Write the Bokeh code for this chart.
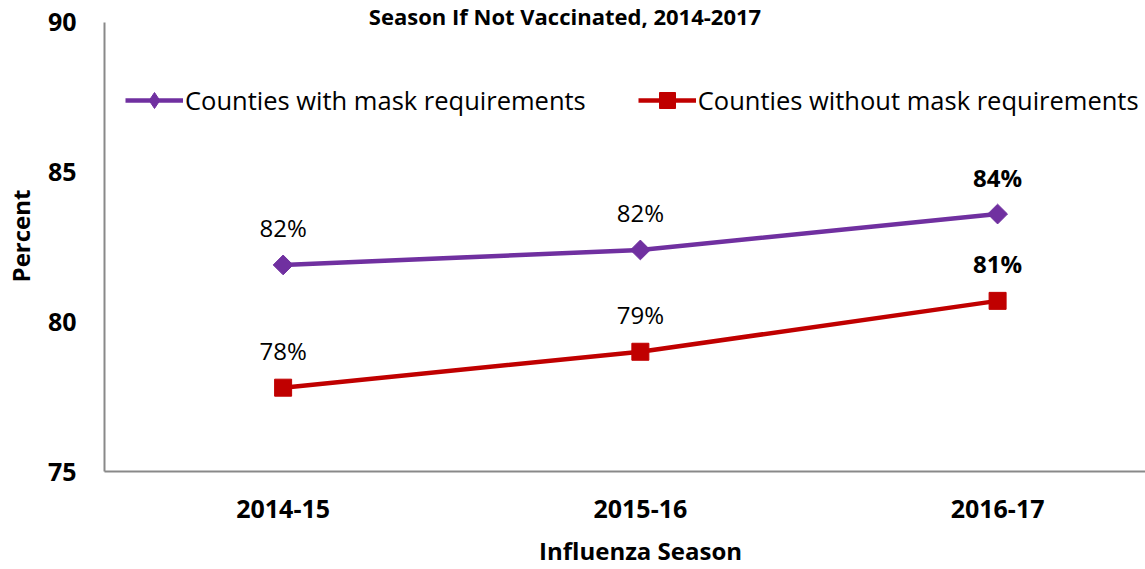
import numpy as np
from bokeh.plotting import figure
from bokeh.models import (ColumnDataSource, Range1d, FixedTicker, Legend, LegendItem, Label)
from bokeh.core.properties import value
from bokeh.embed import file_html
from bokeh.resources import INLINE

# ---- data ----
seasons = ["2014-15", "2015-16", "2016-17"]
with_mask = [81.9, 82.4, 83.6]
without_mask = [77.8, 79.0, 80.7]
series_names = ["Counties with mask requirements", "Counties without mask requirements"]
y_ticks = [75, 80, 85, 90]
title_line = "Season If Not Vaccinated,  2014-2017"
x_title = "Influenza Season"
y_title = "Percent"

FONT = "Open Sans"
PURPLE = "#7030A0"
RED = "#C00000"

xs = list(range(len(seasons)))
y_lo, y_hi = y_ticks[0], y_ticks[-1]
# frame reaches the top of the canvas so the (cropped) title line can sit above 90
y_top = y_hi + 22 / 30.0

p = figure(width=1145, height=569, output_backend="svg", toolbar_location=None,
           x_range=Range1d(-0.5, 2.414), y_range=Range1d(y_lo, y_top),
           min_border_left=104, min_border_right=0, min_border_top=0, min_border_bottom=97)
p.outline_line_color = None
p.grid.visible = False
p.background_fill_color = "white"
p.border_fill_color = "white"

def label_styles(vals):
    return ["bold" if i == len(vals) - 1 else "normal" for i in range(len(vals))]

src_a = ColumnDataSource(dict(x=xs, y=with_mask,
                              lab=[f"{round(v)}%" for v in with_mask],
                              st=label_styles(with_mask)))
src_b = ColumnDataSource(dict(x=xs, y=without_mask,
                              lab=[f"{round(v)}%" for v in without_mask],
                              st=label_styles(without_mask)))

la = p.line("x", "y", source=src_a, line_color=PURPLE, line_width=4.5)
# diamond used for the legend swatch (hidden under the rotated square in the plot)
da = p.scatter("x", "y", source=src_a, marker="diamond", size=14,
               fill_color=PURPLE, line_color=PURPLE)
ma = p.scatter("x", "y", source=src_a, marker="square", angle=np.pi / 4, size=14,
               fill_color=PURPLE, line_color=PURPLE)
lb = p.line("x", "y", source=src_b, line_color=RED, line_width=4.5)
mb = p.scatter("x", "y", source=src_b, marker="square", size=17,
               fill_color=RED, line_color=RED)

for src in (src_a, src_b):
    p.text("x", "y", text="lab", source=src, text_font=value(FONT), text_font_size="24px",
           text_font_style="st", text_align="center", text_baseline="middle",
           y_offset=-37, text_color="black")

# axes
p.xaxis.ticker = FixedTicker(ticks=xs)
p.xaxis.major_label_overrides = {i: s for i, s in enumerate(seasons)}
p.yaxis.ticker = FixedTicker(ticks=y_ticks)
p.yaxis.bounds = (y_lo, y_hi)
for ax in (p.xaxis, p.yaxis):
    ax.axis_line_color = "#898989"
    ax.axis_line_width = 2
    ax.major_tick_line_color = None
    ax.minor_tick_line_color = None
    ax.major_tick_out = 0
    ax.major_tick_in = 0
    ax.major_label_text_font = FONT
    ax.major_label_text_font_style = "bold"
    ax.major_label_text_font_size = "25px"
    ax.major_label_text_color = "black"
    ax.axis_label_text_font = FONT
    ax.axis_label_text_font_style = "bold"
    ax.axis_label_text_font_size = "24px"
    ax.axis_label_text_color = "black"
p.xaxis.major_label_standoff = 28
# non-breaking spaces nudge the title right, to sit under the middle season as in the
# right-cropped original
p.xaxis.axis_label = "\u00a0" * 5 + x_title
p.xaxis.axis_label_standoff = 13
p.yaxis.major_label_standoff = 28
p.yaxis.axis_label = y_title
p.yaxis.axis_label_standoff = 8

legend = Legend(items=[LegendItem(label=series_names[0], renderers=[la, da]),
                       LegendItem(label=series_names[1], renderers=[lb, mb])],
                orientation="horizontal", location=(21, 351),
                glyph_width=58, glyph_height=40, label_height=40, label_standoff=2,
                spacing=52, padding=0, margin=0,
                label_text_font=FONT, label_text_font_size="25.5px", label_text_color="black",
                border_line_color=None, background_fill_alpha=0)
p.add_layout(legend, "center")

title = Label(x=0.797, y=y_hi + 6 / 30.0, text=title_line,
              text_font=FONT, text_font_style="bold", text_font_size="22px",
              text_align="center", text_baseline="alphabetic", text_color="black")
p.add_layout(title)

open("out.html", "w").write(file_html(p, INLINE))
